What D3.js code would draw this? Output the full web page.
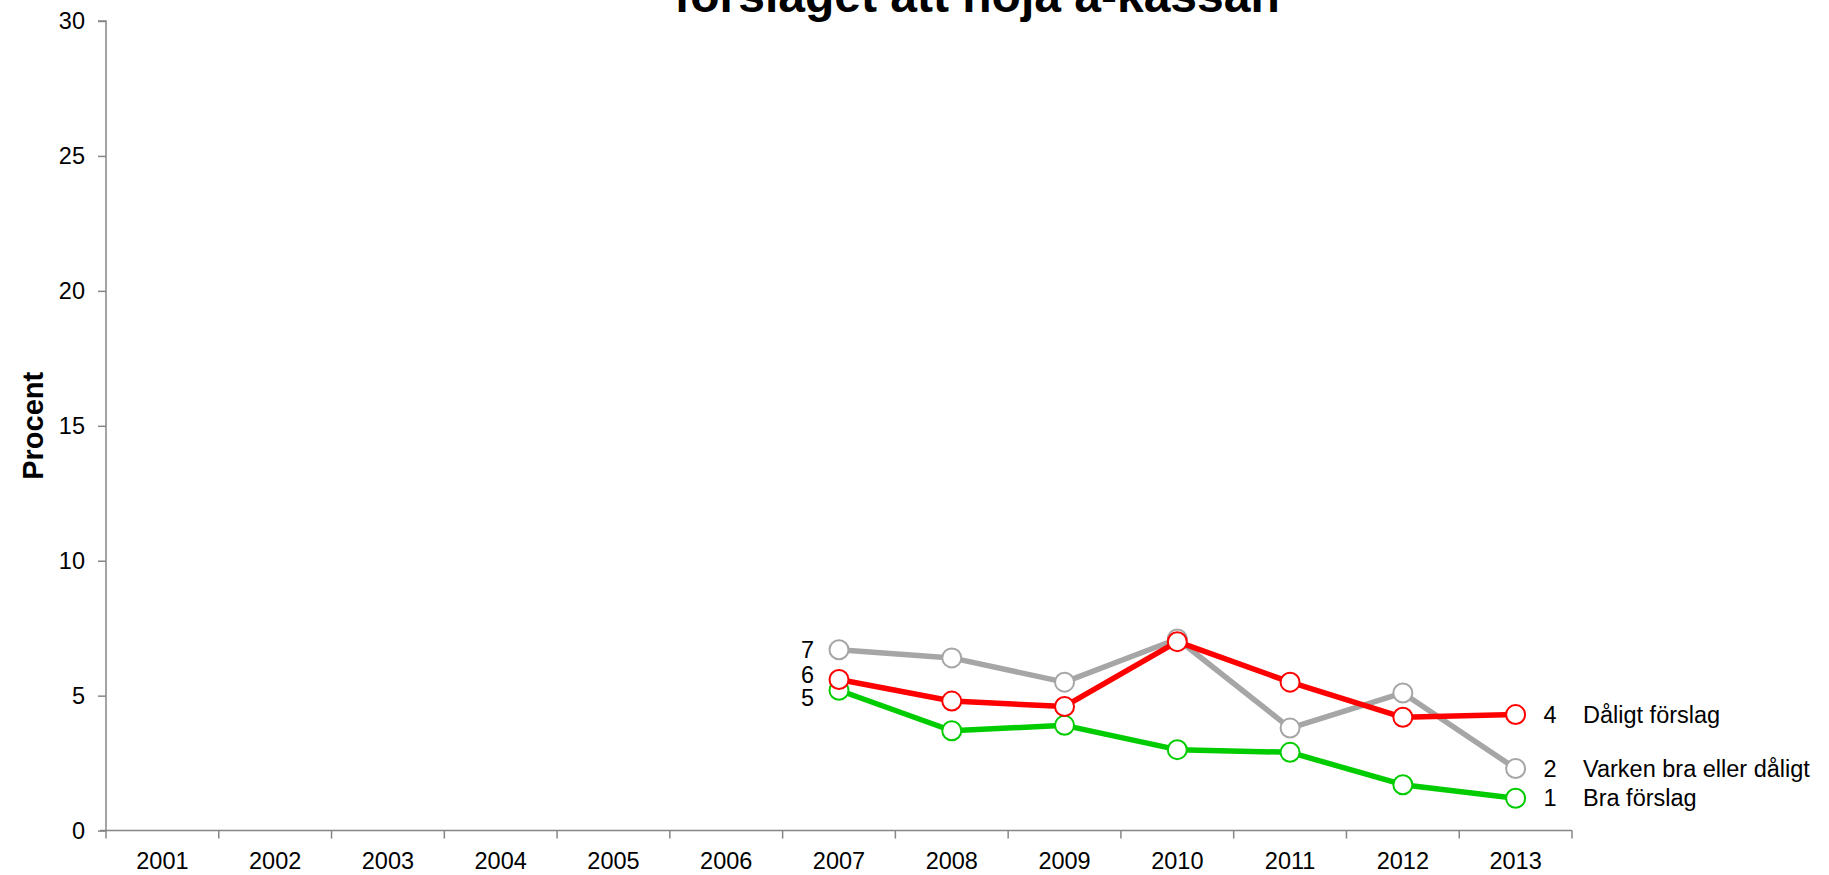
<!DOCTYPE html>
<html><head><meta charset="utf-8">
<script src="https://cdn.jsdelivr.net/npm/d3@7"></script>
<style>body{margin:0;background:#fff}svg{display:block}text{font-family:"Liberation Sans",Arial,sans-serif}</style>
</head><body>
<svg id="c" width="1829" height="875"></svg>
<script>
const years = ["2001","2002","2003","2004","2005","2006","2007","2008","2009","2010","2011","2012","2013"];
const dataYears = ["2007","2008","2009","2010","2011","2012","2013"];
const seriesNames = ["Bra förslag","Varken bra eller dåligt","Dåligt förslag"];
const braValues = [5.2,3.7,3.9,3.0,2.9,1.7,1.2];
const varkenValues = [6.7,6.4,5.5,7.1,3.8,5.1,2.3];
const daligtValues = [5.6,4.8,4.6,7.0,5.5,4.2,4.3];
const yTicks = [0,5,10,15,20,25,30];
const titleText = "förslaget att höja a-kassan";
const yLabel = "Procent";

(function(){
const colors = ["#00CC00","#A6A6A6","#FF0000"];
const series = [
  {name:seriesNames[0], values:braValues, color:colors[0], startDy:8},
  {name:seriesNames[1], values:varkenValues, color:colors[1], startDy:0},
  {name:seriesNames[2], values:daligtValues, color:colors[2], startDy:-5}
];

const svg = d3.select("#c");
const pL=106, pR=1572, pT=21, pB=830.6;
const x = d3.scaleBand().domain(years).range([pL,pR]);
const y = d3.scaleLinear().domain([0,30]).range([pB,pT]);
const axisColor = "#868686";
const fs = 23.5;

svg.append("text").attr("x",977).attr("y",12).attr("text-anchor","middle")
  .attr("font-size",48).attr("font-weight","bold").text(titleText);

const ya = svg.append("g").attr("transform",`translate(${pL},0)`)
  .call(d3.axisLeft(y).tickValues(yTicks).tickSize(8).tickPadding(13));
ya.select(".domain").attr("stroke",axisColor).attr("stroke-width",1.5).attr("d",`M-8,${pT}H0V${pB}`);
ya.selectAll(".tick line").attr("stroke",axisColor).attr("stroke-width",1.5);
ya.selectAll(".tick text").attr("font-size",fs).attr("fill","#000").attr("font-family","Liberation Sans, Arial");

svg.append("text").attr("transform",`translate(33,${(pT+pB)/2}) rotate(-90)`)
  .attr("text-anchor","middle").attr("dy","0.35em").attr("font-size",29).attr("font-weight","bold").text(yLabel);

const xa = svg.append("g").attr("transform",`translate(0,${pB})`)
  .call(d3.axisBottom(x).tickSize(0).tickPadding(22));
xa.select(".domain").attr("stroke",axisColor).attr("stroke-width",1.5).attr("d",`M${pL-6},0H${pR}`);
xa.selectAll(".tick text").attr("font-size",fs).attr("fill","#000").attr("font-family","Liberation Sans, Arial");
const bounds = years.map(d=>x(d)).concat([x(years[years.length-1])+x.bandwidth()]);
svg.append("g").selectAll("line").data(bounds).join("line")
  .attr("x1",d=>d).attr("x2",d=>d).attr("y1",pB).attr("y2",pB+8)
  .attr("stroke",axisColor).attr("stroke-width",1.5);

const cx = d => x(d)+x.bandwidth()/2;
const line = d3.line().x(d=>cx(d.year)).y(d=>y(d.v));

series.forEach(s=>{ s.pts = dataYears.map((yr,i)=>({year:yr,v:s.values[i]})); });
series.forEach(s=>{
  svg.append("path").datum(s.pts).attr("d",line).attr("fill","none")
    .attr("stroke",s.color).attr("stroke-width",5.5).attr("stroke-linejoin","round");
  svg.append("g").selectAll("circle").data(s.pts).join("circle")
    .attr("cx",d=>cx(d.year)).attr("cy",d=>y(d.v)).attr("r",9.5)
    .attr("fill","#fff").attr("stroke",s.color).attr("stroke-width",2);
});

series.forEach(s=>{
  const p = s.pts[0];
  svg.append("text").attr("x",cx(p.year)-25).attr("y",y(p.v)+s.startDy).attr("dy","0.35em")
    .attr("text-anchor","end").attr("font-size",fs).text(Math.round(p.v));
});
series.forEach(s=>{
  const p = s.pts[s.pts.length-1];
  svg.append("text").attr("x",cx(p.year)+28).attr("y",y(p.v)).attr("dy","0.35em")
    .attr("text-anchor","start").attr("font-size",fs).text(Math.round(p.v));
  svg.append("text").attr("x",1583).attr("y",y(p.v)).attr("dy","0.35em")
    .attr("text-anchor","start").attr("font-size",fs).text(s.name);
});
})();
</script>
</body></html>
